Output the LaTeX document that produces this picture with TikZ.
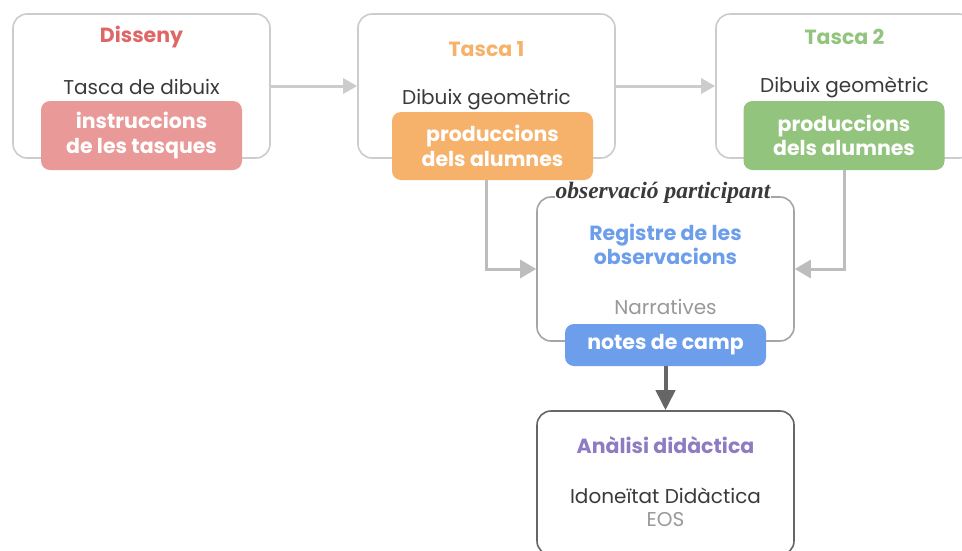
\documentclass[tikz,border=0pt]{standalone}
\usepackage{fontspec}
\setmainfont{Poppins}
\newfontfamily\handfont{Liberation Serif}
\usetikzlibrary{arrows.meta}
\definecolor{cred}{HTML}{E06666}
\definecolor{cpink}{HTML}{EA9999}
\definecolor{corange}{HTML}{F6B26B}
\definecolor{cgreen}{HTML}{93C47D}
\definecolor{cblue}{HTML}{6D9EEB}
\definecolor{cpurple}{HTML}{8E7CC3}
\definecolor{ctext}{HTML}{3A3A3A}
\definecolor{cgraytext}{HTML}{999999}
\definecolor{clight}{HTML}{CCCCCC}
\definecolor{cmid}{HTML}{A5A5A5}
\definecolor{cdark}{HTML}{666666}
\definecolor{cline}{HTML}{BDBDBD}
\begin{document}
\begin{tikzpicture}[x=1pt,y=-1pt,
  stage/.style={draw=clight, line width=1.6pt, rounded corners=14pt,
    minimum width=257pt, minimum height=144pt, inner sep=0pt},
  tag/.style={rounded corners=9pt, minimum width=201pt, inner sep=0pt,
    text=white, font=\fontsize{20.5}{24.5}\selectfont\bfseries, align=center},
  title/.style={font=\fontsize{20.5}{24.5}\selectfont\bfseries, align=center},
  body/.style={font=\fontsize{20}{24}\selectfont, text=ctext},
  flow/.style={draw=clight, line width=3pt, -{Triangle[length=14pt,width=15pt]}},
  feed/.style={draw=cline, line width=3pt, -{Triangle[length=16pt,width=18pt]}},
  down/.style={draw=cdark, line width=4pt, -{Triangle[length=20pt,width=19pt]}}]
\useasboundingbox[clip] (0,0) rectangle (962,550);
\fill[white] (0,0) rectangle (962,550);

% top row of stages
\node[stage] (dis) at (141.5,86) {};
\node[stage] (ta1) at (486.5,86) {};
\node[stage] (ta2) at (844.5,86) {};

\node[title, text=cred] (disT) at (141.5,37) {Disseny};
\node[body] (disB) at (141.5,87) {Tasca de dibuix};
\node[tag, fill=cpink, minimum height=69pt] (disP) at (141.5,135.5) {instruccions\\de les tasques};

\node[title, text=corange] (ta1T) at (486.5,49) {Tasca 1};
\node[body] (ta1B) at (486.5,99) {Dibuix geomètric};
\node[tag, fill=corange, minimum height=68pt] (ta1P) at (492.5,146) {produccions\\dels alumnes};

\node[title, text=cgreen] (ta2T) at (844.5,37) {Tasca 2};
\node[body] (ta2B) at (844.5,87) {Dibuix geomètric};
\node[tag, fill=cgreen, minimum height=69pt] (ta2P) at (844,135.5) {produccions\\dels alumnes};

\draw[flow] (dis.east) -- (ta1.west);
\draw[flow] (ta1.east) -- (ta2.west);

% observation record
\node[stage, draw=cmid] (reg) at (665.5,269) {};
\node[title, text=cblue] (regT) at (665.5,244.5) {Registre de les\\observacions};
\node[body, text=cgraytext] (regB) at (665.5,307) {Narratives};
\node[tag, fill=cblue, minimum height=42pt] (regP) at (665.5,345) {notes de camp};
\node[font=\handfont\fontsize{23.5}{26}\selectfont\bfseries\itshape, text=ctext, fill=white, inner sep=1pt] (obs) at (663,193) {observació participant};

\draw[feed] ([xshift=-6pt]ta1P.south) |- (reg.west);
\draw[feed] (ta2P.south) |- (reg.east);

% didactic analysis
\node[stage, draw=cdark] (ana) at (665.5,483) {};
\node[title, text=cpurple] (anaT) at (665.5,445) {Anàlisi didàctica};
\node[body] (anaB) at (665.5,496) {Idoneïtat Didàctica};
\node[body, text=cgraytext] (anaE) at (665.5,520) {EOS};

\draw[down] (regP.south) -- (ana.north);
\end{tikzpicture}
\end{document}
